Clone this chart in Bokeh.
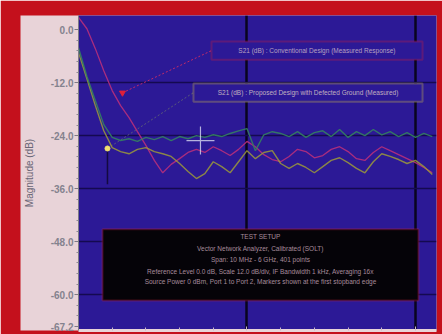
from bokeh.plotting import figure
from bokeh.models import Range1d, FixedTicker, PrintfTickFormatter, BoxAnnotation, Label, ColumnDataSource
from bokeh.embed import file_html
from bokeh.resources import INLINE

# ---- data ----
x_vals = [0, 10, 20, 30, 40, 50, 60, 70, 80, 90, 100, 110, 120, 130, 140, 150, 160, 170, 180, 190,
          200, 210, 220, 230, 240, 250, 260, 270, 280, 290, 300, 310, 320, 330, 340, 350, 360, 370,
          380, 390, 400, 410, 420]
green_db = [-4.1, -10.6, -16.1, -21.5, -24.4, -25.1, -24.7, -25.3, -24.4, -24.9, -24.2, -25.1, -24.2,
            -24.7, -24.0, -24.4, -23.8, -24.2, -23.5, -22.9, -22.4, -27.4, -23.8, -23.1, -23.5, -24.2,
            -23.1, -24.4, -23.3, -22.9, -24.2, -22.6, -24.4, -23.1, -24.0, -22.6, -23.8, -23.1, -24.2,
            -23.3, -24.4, -23.5, -24.2]
olive_db = [-5.2, -11.1, -17.2, -22.9, -26.7, -27.6, -28.1, -27.1, -26.7, -27.6, -28.1, -28.7, -30.3,
            -32.1, -33.7, -32.6, -29.9, -31.0, -32.4, -29.9, -27.4, -29.2, -27.8, -27.4, -30.3, -31.4,
            -30.3, -31.2, -32.4, -31.0, -29.6, -29.0, -30.1, -31.4, -32.4, -29.9, -28.1, -28.7, -29.4,
            -30.3, -29.6, -31.0, -32.8]
magenta_db = [2.8, 0.2, -4.3, -9.3, -13.8, -17.2, -19.9, -23.1, -26.2, -29.6, -32.4, -30.5, -29.2,
              -27.8, -27.1, -27.8, -26.5, -27.4, -28.5, -27.1, -25.3, -26.5, -28.3, -29.4, -29.9, -28.7,
              -27.1, -27.6, -29.0, -28.5, -27.1, -26.5, -27.6, -29.2, -29.6, -27.8, -26.5, -27.4, -28.3,
              -29.2, -30.1, -31.2, -32.4]
y_ticks = [0.0, -12.0, -24.0, -36.0, -48.0, -60.0, -67.2]
y_minor = [-2.4, -4.8, -7.2, -9.6, -14.4, -16.8, -19.2, -21.6, -26.4, -28.8, -31.2, -33.6,
           -38.4, -40.8, -43.2, -45.6, -50.4, -52.8, -55.2, -57.6, -62.4, -64.8]
x_ticks = [0, 200, 400]
x_minor = [40, 80, 120, 160, 240, 280, 320, 360]

marker_red = (52.2, -14.3)
marker_yellow = (34.4, -26.9)
cursor_pt = (144.8, -25.1)

red_box_text = "S21 (dB) : Conventional Design (Measured Response)"
yellow_box_text = "S21 (dB) : Proposed Design with Defected Ground (Measured)"
info_lines = [
    "TEST SETUP",
    "Vector Network Analyzer, Calibrated (SOLT)",
    "Span: 10 MHz - 6 GHz, 401 points",
    "Reference Level 0.0 dB, Scale 12.0 dB/div, IF Bandwidth 1 kHz, Averaging 16x",
    "Source Power 0 dBm, Port 1 to Port 2, Markers shown at the first stopband edge",
]
info_y = [-46.8, -49.5, -52.0, -54.8, -57.0]

# ---- figure ----
BLUE = "#2c1996"
RED = "#c4101c"
PINK = "#e8d3d8"

p = figure(width=442, height=334, output_backend="svg", toolbar_location=None,
           x_range=Range1d(0, 425), y_range=Range1d(-68.1, 3.2))
p.background_fill_color = BLUE
p.border_fill_color = RED
p.outline_line_color = None
p.min_border_left = 78
p.min_border_right = 6
p.min_border_top = 15
p.min_border_bottom = 4

# y axis
ya = p.yaxis[0]
ya.ticker = FixedTicker(ticks=y_ticks, minor_ticks=y_minor)
ya.formatter = PrintfTickFormatter(format="%.1f")
ya.axis_label = "Magnitude (dB)"
ya.axis_label_text_font = "Liberation Sans"
ya.axis_label_text_font_size = "10px"
ya.axis_label_text_font_style = "normal"
ya.axis_label_text_color = "#6a6676"
ya.axis_label_standoff = 13
ya.major_label_text_font = "Liberation Sans"
ya.major_label_text_font_size = "10px"
ya.major_label_text_font_style = "bold"
ya.major_label_text_color = "#84828e"
ya.major_label_standoff = 1
ya.major_tick_out = 4
ya.major_tick_in = 0
ya.minor_tick_out = 2
ya.minor_tick_in = 0
ya.axis_line_color = "#7c7a86"
ya.major_tick_line_color = "#7c7a86"
ya.minor_tick_line_color = "#8c8a96"
ya.background_fill_color = PINK

xa = p.xaxis[0]
xa.ticker = FixedTicker(ticks=x_ticks, minor_ticks=x_minor)
xa.major_label_text_font_size = "1px"
xa.major_label_text_alpha = 0
xa.major_label_standoff = 0
xa.major_tick_out = 0
xa.major_tick_in = 4
xa.minor_tick_out = 0
xa.minor_tick_in = 3
xa.axis_line_color = PINK
xa.axis_line_width = 3
xa.major_tick_line_color = "#c8b8c8"
xa.minor_tick_line_color = "#c8b8c8"

p.ygrid.ticker = FixedTicker(ticks=y_ticks[1:-1])
p.ygrid.grid_line_color = "#140a50"
p.ygrid.grid_line_width = 1.5
p.xgrid.ticker = FixedTicker(ticks=x_ticks[1:])
p.xgrid.grid_line_color = "#08041e"
p.xgrid.grid_line_width = 2.5

# ---- annotation boxes ----
p.add_layout(BoxAnnotation(left=157.9, right=408.4, top=-2.7, bottom=-6.8,
                           fill_color=BLUE, fill_alpha=1.0, line_color="#d0203a", line_width=2))
p.add_layout(BoxAnnotation(left=136.5, right=408.4, top=-12.2, bottom=-16.3,
                           fill_color=BLUE, fill_alpha=1.0, line_color="#d8c848", line_width=2))
p.add_layout(BoxAnnotation(left=28.5, right=403.6, top=-45.2, bottom=-61.3,
                           fill_color="#050308", fill_alpha=1.0, line_color="#d0203a", line_width=2))

# connectors
p.line([marker_red[0], 157.9], [marker_red[1], -4.75], line_color="#c02a6a",
       line_dash="2 2", line_width=1)
p.line([marker_yellow[0], 136.5], [marker_yellow[1], -14.25], line_color="#5a5a7a",
       line_dash="2 2", line_width=1)

# ---- series ----
src = ColumnDataSource(dict(x=x_vals, g=green_db, o=olive_db, m=magenta_db))
p.line("x", "m", source=src, line_color="#c0307a", line_width=1.3, line_alpha=0.85)
p.line("x", "o", source=src, line_color="#9c9a3a", line_width=1.4, line_alpha=0.85)
p.line("x", "g", source=src, line_color="#348060", line_width=1.4, line_alpha=0.9)

# markers and cursor
p.line([marker_yellow[0], marker_yellow[0]], [marker_yellow[1], -35.0], line_color="#140a40",
       line_width=1.5)
p.scatter([marker_red[0]], [marker_red[1]], marker="triangle", size=6, fill_color="#e0203a",
          line_color="#e0203a", angle=3.14159)
p.scatter([marker_yellow[0]], [marker_yellow[1]], marker="circle", size=5, fill_color="#f0e070",
          line_color="#f0e070")
p.scatter([cursor_pt[0]], [cursor_pt[1]], marker="cross", size=28, line_color="#d8d8f0",
          line_width=1.2, line_alpha=0.8)

# texts
p.add_layout(Label(x=283.0, y=-4.75, text=red_box_text, text_align="center", text_baseline="middle",
                   text_font="Liberation Sans", text_font_size="6.5px", text_color="#b8a0c0"))
p.add_layout(Label(x=272.5, y=-14.25, text=yellow_box_text, text_align="center",
                   text_baseline="middle", text_font="Liberation Sans", text_font_size="6.5px",
                   text_color="#c0b0c0"))
for line, yy in zip(info_lines, info_y):
    p.add_layout(Label(x=216.0, y=yy, text=line, text_align="center", text_baseline="middle",
                       text_font="Liberation Sans", text_font_size="6.5px", text_color="#a88c9c"))

open("out.html", "w").write(file_html(p, INLINE))
